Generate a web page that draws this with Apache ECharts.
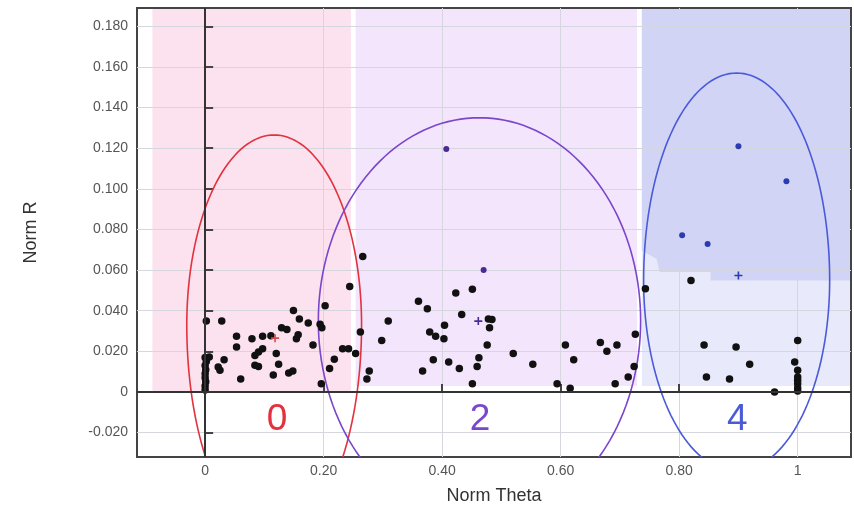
<!DOCTYPE html>
<html>
<head>
<meta charset="utf-8">
<script src="https://cdn.jsdelivr.net/npm/echarts@6/dist/echarts.min.js"></script>
<style>
html, body { margin: 0; padding: 0; background: #fff; }
#chart { width: 854px; height: 514px; }
</style>
</head>
<body>
<div id="chart"></div>
<script>
// tick values
var xTicks = [0, 0.2, 0.4, 0.6, 0.8, 1];
var yTicks = [-0.02, 0, 0.02, 0.04, 0.06, 0.08, 0.1, 0.12, 0.14, 0.16, 0.18];

// samples, [norm theta, norm R]
var blackPoints = [
    [0.002, 0.035], [0.028, 0.035], [0, 0.017], [0.002, 0.015], [0, 0.013], [0.001, 0.011],
    [0, 0.009], [0, 0.007], [0.001, 0.005], [0, 0.003], [0, 0.001], [0.007, 0.0172],
    [0.022, 0.0123], [0.025, 0.0107], [0.032, 0.0159], [0.060, 0.0064], [0.053, 0.0274],
    [0.053, 0.0221], [0.079, 0.0262], [0.097, 0.0274], [0.111, 0.0277], [0.097, 0.0213],
    [0.084, 0.018], [0.090, 0.0197], [0.084, 0.0131], [0.090, 0.0126], [0.120, 0.0189],
    [0.124, 0.0136], [0.115, 0.0084], [0.141, 0.0093], [0.148, 0.0103], [0.129, 0.0316],
    [0.138, 0.0307], [0.154, 0.0262], [0.157, 0.0282], [0.149, 0.0401], [0.159, 0.0359],
    [0.174, 0.0339], [0.182, 0.0231], [0.194, 0.0333], [0.197, 0.0316], [0.2025, 0.0425],
    [0.196, 0.0041], [0.210, 0.0115], [0.218, 0.0161], [0.232, 0.0213], [0.242, 0.0213],
    [0.254, 0.0189], [0.244, 0.0519], [0.266, 0.0667], [0.262, 0.0295], [0.277, 0.0103],
    [0.273, 0.0064], [0.309, 0.0349], [0.298, 0.0254],
    [0.360, 0.0446], [0.375, 0.0410], [0.423, 0.0487], [0.451, 0.0506], [0.433, 0.0382],
    [0.404, 0.0328], [0.379, 0.0295], [0.389, 0.0274], [0.403, 0.0262], [0.478, 0.0359],
    [0.484, 0.0357], [0.480, 0.0316], [0.476, 0.0231], [0.462, 0.0169], [0.459, 0.0126],
    [0.451, 0.0041], [0.385, 0.0159], [0.367, 0.0103], [0.411, 0.0147], [0.429, 0.0116],
    [0.520, 0.0189], [0.553, 0.0136], [0.608, 0.0231], [0.622, 0.0159], [0.594, 0.0041],
    [0.616, 0.0018], [0.667, 0.0243], [0.678, 0.0200], [0.695, 0.0231], [0.692, 0.0041],
    [0.820, 0.0549], [0.743, 0.0508], [0.726, 0.0284], [0.724, 0.0126], [0.714, 0.0074],
    [0.842, 0.0231], [0.896, 0.0221], [0.919, 0.0136], [0.846, 0.0074], [0.885, 0.0064],
    [0.961, 0.0], [1.0, 0.0254], [0.995, 0.0147], [1.0, 0.0107], [1.0, 0.0074],
    [1.0, 0.0058], [1.0, 0.004], [1.0, 0.002], [1.0, 0.0005]
];
var purplePoints = [[0.407, 0.1196], [0.470, 0.0601]];
var bluePoints = [[0.900, 0.1209], [0.981, 0.1037], [0.805, 0.0772], [0.848, 0.0729]];

// clusters 0 / 2 / 4
var clusterNames = ['0', '2', '4'];
var centroids = [[0.118, 0.0265], [0.461, 0.0349], [0.900, 0.0573]];
var clusterLabelX = [0.1215, 0.464, 0.898];
var clusterLabelY = -0.0139;
var clusterColors = ['#e2323e', '#7a46cc', '#4b5bd8'];
var markerColors = ['#d84a4a', '#4a2a95', '#2a3cb0'];

// ellipses: cx, cy, rx, ry above, ry below
var ellipses = [
    [0.1165, 0.033, 0.1475, 0.0935, 0.105],
    [0.463, 0.035, 0.272, 0.100, 0.100],
    [0.897, 0.055, 0.157, 0.102, 0.094]
];

// shaded regions
var regions = [
    [[-0.089, 0], [0.246, 0], [0.246, 0.19], [-0.089, 0.19]],
    [[0.254, 0.003], [0.729, 0.003], [0.729, 0.19], [0.254, 0.19]],
    [[0.737, 0.003], [1.09, 0.003], [1.09, 0.19], [0.737, 0.19]],
    [[0.737, 0.19], [1.09, 0.19], [1.09, 0.0549], [0.853, 0.0549], [0.853, 0.059],
     [0.767, 0.059], [0.762, 0.0655], [0.737, 0.0696]]
];
var regionColors = ['#fce2ef', '#f3e5fb', '#e8e9fa', '#d2d4f6'];

var myChart = echarts.init(document.getElementById('chart'));

var plusPath = 'path://M4,0h2v4h4v2h-4v4h-2v-4h-4v-2h4z';
var FONT = '"Liberation Sans", Arial, sans-serif';

function fmtY(v) {
    if (Math.abs(v) < 1e-9) return '0';
    return v.toFixed(3);
}
function fmtX(v) {
    if (Math.abs(v) < 1e-9) return '0';
    if (Math.abs(v - 1) < 1e-9) return '1';
    return v.toFixed(2);
}

var option = {
    animation: false,
    grid: {
        left: 137, right: 3, top: 8, bottom: 57,
        show: true,
        borderColor: '#444',
        borderWidth: 2
    },
    xAxis: {
        type: 'value',
        min: -0.115,
        max: 1.09,
        name: 'Norm Theta',
        nameLocation: 'middle',
        nameGap: 30,
        nameTextStyle: { fontFamily: FONT, fontSize: 18, color: '#333' },
        axisLine: { show: false },
        axisTick: { show: true, inside: true, length: 8, customValues: xTicks, lineStyle: { color: '#444', width: 2 } },
        axisLabel: { customValues: xTicks, formatter: fmtX, fontFamily: FONT, fontSize: 14, color: '#555', margin: 7 },
        splitLine: { show: true, lineStyle: { color: '#d6d6de', width: 1 } }
    },
    yAxis: {
        type: 'value',
        min: -0.032,
        max: 0.189,
        name: 'Norm R',
        nameLocation: 'middle',
        nameGap: 97,
        nameTextStyle: { fontFamily: FONT, fontSize: 18, color: '#333' },
        axisLine: { show: false },
        axisTick: { show: true, inside: true, length: 8, customValues: yTicks, lineStyle: { color: '#444', width: 2 } },
        axisLabel: { customValues: yTicks, formatter: fmtY, fontFamily: FONT, fontSize: 14, color: '#555', margin: 9 },
        splitLine: { show: true, lineStyle: { color: '#d6d6de', width: 1 } }
    },
    series: [
        {
            // background regions
            type: 'custom',
            z: -1,
            clip: true,
            silent: true,
            data: regions.map(function (r) { return [r[0][0], r[0][1]]; }),
            renderItem: function (params, api) {
                var poly = regions[params.dataIndex];
                var pts = poly.map(function (p) { return api.coord(p); });
                return {
                    type: 'polygon',
                    shape: { points: pts },
                    style: { fill: regionColors[params.dataIndex], stroke: null }
                };
            }
        },
        {
            // ellipses
            type: 'custom',
            z: 3,
            clip: true,
            silent: true,
            data: ellipses.map(function (e) { return [e[0], e[1]]; }),
            renderItem: function (params, api) {
                var e = ellipses[params.dataIndex];
                var c = api.coord([e[0], e[1]]);
                var sTop = api.size([e[2], e[3]]);
                var sBot = api.size([e[2], e[4]]);
                var pts = [];
                for (var i = 0; i <= 160; i++) {
                    var t = i / 160 * Math.PI * 2;
                    var s = Math.sin(t);
                    var ry = s > 0 ? sTop[1] : sBot[1];
                    pts.push([c[0] + sTop[0] * Math.cos(t), c[1] - ry * s]);
                }
                return {
                    type: 'polygon',
                    shape: { points: pts },
                    style: { fill: 'none', stroke: clusterColors[params.dataIndex], lineWidth: 1.6 }
                };
            }
        },
        {
            type: 'scatter',
            z: 4,
            symbolSize: 7.5,
            itemStyle: { color: '#111', opacity: 1 },
            data: blackPoints,
            markLine: {
                silent: true,
                symbol: ['none', 'none'],
                label: { show: false },
                lineStyle: { color: '#333', width: 2, type: 'solid' },
                data: [{ xAxis: 0 }, { yAxis: 0 }]
            }
        },
        {
            type: 'scatter',
            z: 4,
            symbolSize: 6,
            itemStyle: { color: markerColors[1], opacity: 1 },
            data: purplePoints
        },
        {
            type: 'scatter',
            z: 4,
            symbolSize: 6,
            itemStyle: { color: markerColors[2], opacity: 1 },
            data: bluePoints
        },
        {
            type: 'scatter',
            z: 5,
            symbol: plusPath,
            symbolSize: 8,
            data: centroids.map(function (c, i) {
                return { value: c, itemStyle: { color: markerColors[i], opacity: 1 } };
            })
        },
        {
            // cluster numbers
            type: 'custom',
            z: 5,
            silent: true,
            data: clusterNames.map(function (n, i) { return [clusterLabelX[i], clusterLabelY]; }),
            renderItem: function (params, api) {
                var p = api.coord([api.value(0), api.value(1)]);
                return {
                    type: 'text',
                    x: p[0],
                    y: p[1],
                    style: {
                        text: clusterNames[params.dataIndex],
                        fill: clusterColors[params.dataIndex],
                        font: '37px ' + FONT,
                        textAlign: 'center',
                        textVerticalAlign: 'middle'
                    }
                };
            }
        }
    ]
};

myChart.setOption(option);
</script>
</body>
</html>
